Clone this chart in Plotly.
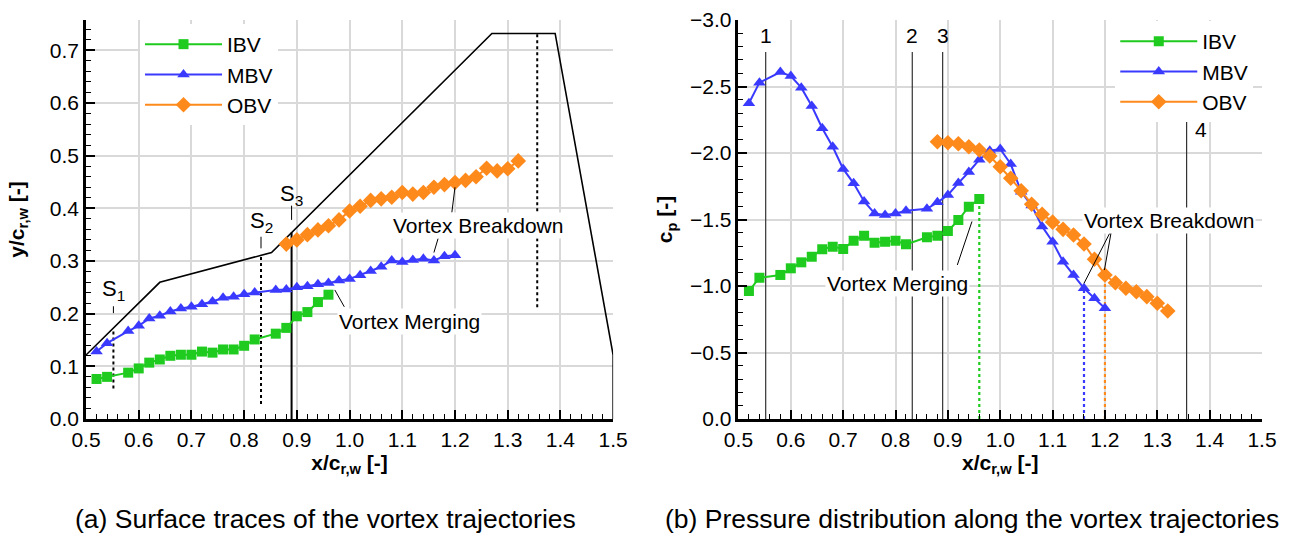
import plotly.graph_objects as go

# ---------------- data ----------------
# (a) surface traces
ibv_x = [0.52, 0.54, 0.58, 0.60, 0.62, 0.64, 0.66, 0.68, 0.70, 0.72, 0.74, 0.76, 0.78, 0.80, 0.82,
         0.86, 0.88, 0.90, 0.92, 0.94, 0.96]
ibv_y = [0.076, 0.080, 0.088, 0.096, 0.107, 0.113, 0.120, 0.122, 0.122, 0.128, 0.126, 0.132, 0.132,
         0.139, 0.151, 0.162, 0.173, 0.195, 0.203, 0.222, 0.236]
mbv_x = [0.52, 0.54, 0.58, 0.60, 0.62, 0.64, 0.66, 0.68, 0.70, 0.72, 0.74, 0.76, 0.78, 0.80, 0.82,
         0.86, 0.88, 0.90, 0.92, 0.94, 0.96, 0.98, 1.00, 1.02, 1.04, 1.06, 1.08, 1.10, 1.12, 1.14,
         1.16, 1.18, 1.20]
mbv_y = [0.128, 0.144, 0.167, 0.177, 0.191, 0.196, 0.204, 0.210, 0.213, 0.218, 0.223, 0.230, 0.232,
         0.237, 0.240, 0.245, 0.246, 0.250, 0.252, 0.256, 0.258, 0.263, 0.266, 0.273, 0.281, 0.289,
         0.301, 0.298, 0.302, 0.304, 0.301, 0.309, 0.311]
obv_x = [0.88, 0.90, 0.92, 0.94, 0.96, 0.98, 1.00, 1.02, 1.04, 1.06, 1.08, 1.10, 1.12, 1.14, 1.16,
         1.18, 1.20, 1.22, 1.24, 1.26, 1.28, 1.30, 1.32]
obv_y = [0.332, 0.340, 0.350, 0.359, 0.367, 0.378, 0.395, 0.404, 0.415, 0.418, 0.421, 0.430, 0.427,
         0.430, 0.440, 0.445, 0.449, 0.453, 0.460, 0.476, 0.471, 0.475, 0.490]

# (b) pressure distribution
ibv_cp = [-0.962, -1.062, -1.083, -1.133, -1.178, -1.220, -1.276, -1.296, -1.278, -1.341, -1.378,
          -1.326, -1.333, -1.341, -1.313, -1.366, -1.378, -1.413, -1.496, -1.596, -1.654]
mbv_cp = [-2.374, -2.529, -2.609, -2.579, -2.491, -2.353, -2.186, -2.047, -1.880, -1.772, -1.636,
          -1.546, -1.534, -1.546, -1.566, -1.581, -1.629, -1.684, -1.774, -1.857, -1.950, -2.017,
          -2.030, -1.917, -1.709, -1.605, -1.448, -1.333, -1.183, -1.083, -0.983, -0.908, -0.832]
obv_cp = [-2.085, -2.077, -2.070, -2.047, -2.023, -1.977, -1.897, -1.810, -1.716, -1.615, -1.540,
          -1.480, -1.426, -1.383, -1.316, -1.201, -1.083, -1.025, -0.983, -0.957, -0.920, -0.870,
          -0.812]

# wing planform outline
wing_x = [0.50, 0.64, 0.852, 1.27, 1.39, 1.50, 1.50]
wing_y = [0.1215, 0.2595, 0.316, 0.732, 0.732, 0.1215, 0.0]

# sections
sec_x = [0.552, 0.832, 0.890, 1.356]
sec_lo_a = [0.058, 0.0285, 0.0, 0.212]
sec_hi_a = [0.166, 0.311, 0.354, 0.732]
sec_dash_a = ["dot", "dot", "solid", "dot"]
sec_lbl_a = ["S<sub>1</sub>", "S<sub>2</sub>", "S<sub>3</sub>", "S<sub>4</sub>"]
sec_lbl_y_a = [0.245, 0.374, 0.425, 0.765]
sec_hi_b = [-2.76, -2.76, -2.76, -2.31]
sec_lbl_b = ["1", "2", "3", "4"]

# event indices (vortex merging / breakdown)
ibv_merge_i = len(ibv_x) - 1
mbv_bd_i = mbv_x.index(1.16)
obv_bd_i = obv_x.index(1.20)

GREEN = "#1ecb1e"
BLUE = "#3a3aff"
ORANGE = "#ff8a1c"
FONT = "Liberation Sans, Arial, sans-serif"

# ---------------- geometry of the page (px) ----------------
W, H = 1290, 537
ML, MR, MT, MB = 86, W - 1261.7, 20, H - 419
PW = W - ML - MR
PH = H - MT - MB
def px(xp):   # page x -> paper x
    return (xp - ML) / PW
def py(yp):   # page y -> paper y
    return (H - MB - yp) / PH

fig = go.Figure()

# wing outline
fig.add_trace(go.Scatter(x=wing_x, y=wing_y, mode="lines", line=dict(color="black", width=1.6),
                         showlegend=False, xaxis="x", yaxis="y", hoverinfo="skip"))
# section lines (a)
for sx, lo, hi, ds in zip(sec_x, sec_lo_a, sec_hi_a, sec_dash_a):
    fig.add_trace(go.Scatter(x=[sx, sx], y=[lo, hi], mode="lines",
                             line=dict(color="black", width=2, dash=ds),
                             showlegend=False, xaxis="x", yaxis="y", hoverinfo="skip"))
# section lines (b)
for sx, hi in zip(sec_x, sec_hi_b):
    fig.add_trace(go.Scatter(x=[sx, sx], y=[0, hi], mode="lines",
                             line=dict(color="#333333", width=1.2),
                             showlegend=False, xaxis="x2", yaxis="y2", hoverinfo="skip"))
# event dotted lines (b)
for xs, ys, i, c in [(ibv_x, ibv_cp, ibv_merge_i, GREEN), (mbv_x, mbv_cp, mbv_bd_i, BLUE),
                     (obv_x, obv_cp, obv_bd_i, ORANGE)]:
    fig.add_trace(go.Scatter(x=[xs[i], xs[i]], y=[0, ys[i]], mode="lines",
                             line=dict(color=c, width=2.2, dash="dot"),
                             showlegend=False, xaxis="x2", yaxis="y2", hoverinfo="skip"))

series = [("IBV", GREEN, "square", 10, ibv_x, ibv_y, ibv_cp),
          ("MBV", BLUE, "triangle-up", 11, mbv_x, mbv_y, mbv_cp),
          ("OBV", ORANGE, "diamond", 12, obv_x, obv_y, obv_cp)]
for name, col, sym, sz, xs, ya, cp in series:
    fig.add_trace(go.Scatter(x=xs, y=ya, name=name, mode="lines+markers",
                             line=dict(color=col, width=2),
                             marker=dict(symbol=sym, size=sz, color=col),
                             xaxis="x", yaxis="y", legend="legend"))
    fig.add_trace(go.Scatter(x=xs, y=cp, name=name, mode="lines+markers",
                             line=dict(color=col, width=2),
                             marker=dict(symbol=sym, size=sz, color=col),
                             xaxis="x2", yaxis="y2", legend="legend2"))

ax_common = dict(ticks="inside", ticklen=9, tickwidth=1.5, tickcolor="black",
                 showline=True, linecolor="black", linewidth=2.5,
                 showgrid=True, gridcolor="#d9d9d9", gridwidth=1.5, zeroline=False,
                 tickfont=dict(size=21, color="black", family=FONT), tickformat=".1f",
                 automargin=False)

xa = dict(ax_common, range=[0.5, 1.5], dtick=0.1, tick0=0.5,
          minor=dict(ticks="inside", ticklen=5, tickwidth=1, tickcolor="black", dtick=0.02,
                     showgrid=False),
          title=dict(text="<b>x/c<sub>r,w</sub> [-]</b>", font=dict(size=21, family=FONT, color="black"),
                     standoff=4))

fig.update_layout(
    width=W, height=H, margin=dict(l=ML, r=MR, t=MT, b=MB, autoexpand=False),
    paper_bgcolor="white", plot_bgcolor="white",
    font=dict(family=FONT, color="black", size=21),
    xaxis=dict(xa, domain=[0, px(613)], anchor="y"),
    yaxis=dict(ax_common, range=[0, 0.7575], dtick=0.1, tick0=0, domain=[0, 1], anchor="x",
               minor=dict(ticks="inside", ticklen=5, tickwidth=1, tickcolor="black", dtick=0.02,
                          showgrid=False),
               title=dict(text="<b>y/c<sub>r,w</sub> [-]</b>", font=dict(size=21, family=FONT, color="black"),
                          standoff=20)),
    xaxis2=dict(xa, domain=[px(738.3), 1], anchor="y2"),
    yaxis2=dict(ax_common, range=[0, -3.0], dtick=0.5, tick0=0, domain=[0, 1], anchor="x2",
                minor=dict(ticks="inside", ticklen=5, tickwidth=1, tickcolor="black", dtick=0.1,
                           showgrid=False),
                title=dict(text="<b>c<sub>p</sub> [-]</b>", font=dict(size=21, family=FONT, color="black"),
                           standoff=12)),
    legend=dict(x=px(140), y=py(24), xanchor="left", yanchor="top",
                bgcolor="white", borderwidth=0, font=dict(size=21, family=FONT),
                itemwidth=77, tracegroupgap=0),
    legend2=dict(x=px(1115), y=py(21), xanchor="left", yanchor="top",
                 bgcolor="white", borderwidth=0, font=dict(size=21, family=FONT),
                 itemwidth=77, tracegroupgap=0),
    showlegend=True,
)

ann = []
# section labels (a)
for sx, ly, t in zip(sec_x, sec_lbl_y_a, sec_lbl_a):
    ann.append(dict(x=sx, y=ly, xref="x", yref="y", text=t, showarrow=False,
                    font=dict(size=22, family=FONT, color="black")))
# section labels (b)
lbl_pos_b = [(sec_x[0], -2.887), (sec_x[1], -2.887), (sec_x[2], -2.887), (1.383, -2.18)]
for (lx, ly), t in zip(lbl_pos_b, sec_lbl_b):
    ann.append(dict(x=lx, y=ly, xref="x2", yref="y2", text=t, showarrow=False,
                    font=dict(size=21, family=FONT, color="black")))
ann += [
    dict(x=1.243, y=0.367, xref="x", yref="y", text="Vortex Breakdown", showarrow=False,
         bgcolor="white", font=dict(size=21, family=FONT, color="black")),
    dict(x=1.114, y=0.186, xref="x", yref="y", text="Vortex Merging", showarrow=False,
         bgcolor="white", font=dict(size=21, family=FONT, color="black")),
    dict(x=0.804, y=-1.022, xref="x2", yref="y2", text="Vortex Merging", showarrow=False,
         bgcolor="white", font=dict(size=21, family=FONT, color="black")),
    dict(x=1.322, y=-1.49, xref="x2", yref="y2", text="Vortex Breakdown", showarrow=False,
         bgcolor="white", font=dict(size=21, family=FONT, color="black")),
    dict(x=px(325), y=py(519), xref="paper", yref="paper", xanchor="center", yanchor="middle",
         text="(a) Surface traces of the vortex trajectories", showarrow=False,
         font=dict(size=26.5, family=FONT, color="black")),
    dict(x=px(972), y=py(519), xref="paper", yref="paper", xanchor="center", yanchor="middle",
         text="(b) Pressure distribution along the vortex trajectories", showarrow=False,
         font=dict(size=26.5, family=FONT, color="black")),
]
fig.update_layout(annotations=ann)

shp = []
def seg(x0, y0, x1, y1, xr, yr, w=1):
    shp.append(dict(type="line", x0=x0, y0=y0, x1=x1, y1=y1, xref=xr, yref=yr,
                    line=dict(color="black", width=w)))
# small ticks under S labels
seg(sec_x[0], 0.201, sec_x[0], 0.214, "x", "y")
seg(sec_x[1], 0.324, sec_x[1], 0.346, "x", "y")
seg(sec_x[2], 0.378, sec_x[2], 0.405, "x", "y")
# leader lines (a)
seg(0.972, 0.245, 0.99, 0.213, "x", "y")
seg(1.194, 0.392, 1.2, 0.44, "x", "y")
seg(1.168, 0.343, 1.16, 0.316, "x", "y")
# leader lines (b)
seg(0.918, -1.158, 0.946, -1.485, "x2", "y2")
seg(1.212, -1.408, 1.199, -1.12, "x2", "y2")
seg(1.209, -1.396, 1.16, -1.02, "x2", "y2")
fig.update_layout(shapes=shp)

fig.write_html("out.html")
